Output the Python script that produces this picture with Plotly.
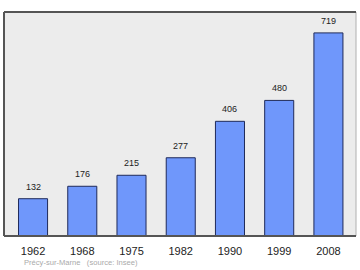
import plotly.graph_objects as go

years = ["1962", "1968", "1975", "1982", "1990", "1999", "2008"]
population = [132, 176, 215, 277, 406, 480, 719]
footer = "Précy-sur-Marne   (source: Insee)"

fig = go.Figure()
fig.add_trace(go.Bar(
    x=list(range(len(years))), y=population,
    width=0.59,
    marker=dict(color="#6f97fb", line=dict(color="#1f2a5a", width=1)),
    hoverinfo="skip",
))
for i, v in enumerate(population):
    fig.add_annotation(x=i, y=v, text=str(v), showarrow=False,
                       yanchor="bottom", yshift=5,
                       font=dict(family="Liberation Sans, Arial", size=9, color="#222"))

fig.add_annotation(xref="paper", yref="paper", x=0.05, y=-0.118, xanchor="left", yanchor="middle",
                   text=footer, showarrow=False,
                   font=dict(family="Liberation Sans, Arial", size=7.6, color="#aaaaaa"))

# frame
fig.add_shape(type="line", xref="paper", yref="paper", x0=1, x1=1, y0=0, y1=1,
              line=dict(color="#b0b0b0", width=1))
fig.add_shape(type="line", xref="paper", yref="paper", x0=0, x1=0, y0=0, y1=1,
              line=dict(color="#555555", width=2))
fig.add_shape(type="line", xref="paper", yref="paper", x0=0, x1=1, y0=1, y1=1,
              line=dict(color="#555555", width=2))
fig.add_shape(type="line", xref="paper", yref="paper", x0=0, x1=1, y0=0, y1=0,
              line=dict(color="#555555", width=2))

fig.update_layout(
    width=360, height=270,
    margin=dict(l=4, r=4, t=12, b=34),
    paper_bgcolor="white", plot_bgcolor="#ececec",
    showlegend=False,
    xaxis=dict(range=[-0.59, 6.56], tickmode="array", tickvals=list(range(len(years))),
               ticktext=years, showgrid=False, zeroline=False, ticks="",
               ticklabelstandoff=7,
               tickfont=dict(family="Liberation Sans, Arial", size=11, color="#222")),
    yaxis=dict(range=[0, 793], showgrid=False, zeroline=False, showticklabels=False, ticks=""),
)
fig.write_html("out.html")
